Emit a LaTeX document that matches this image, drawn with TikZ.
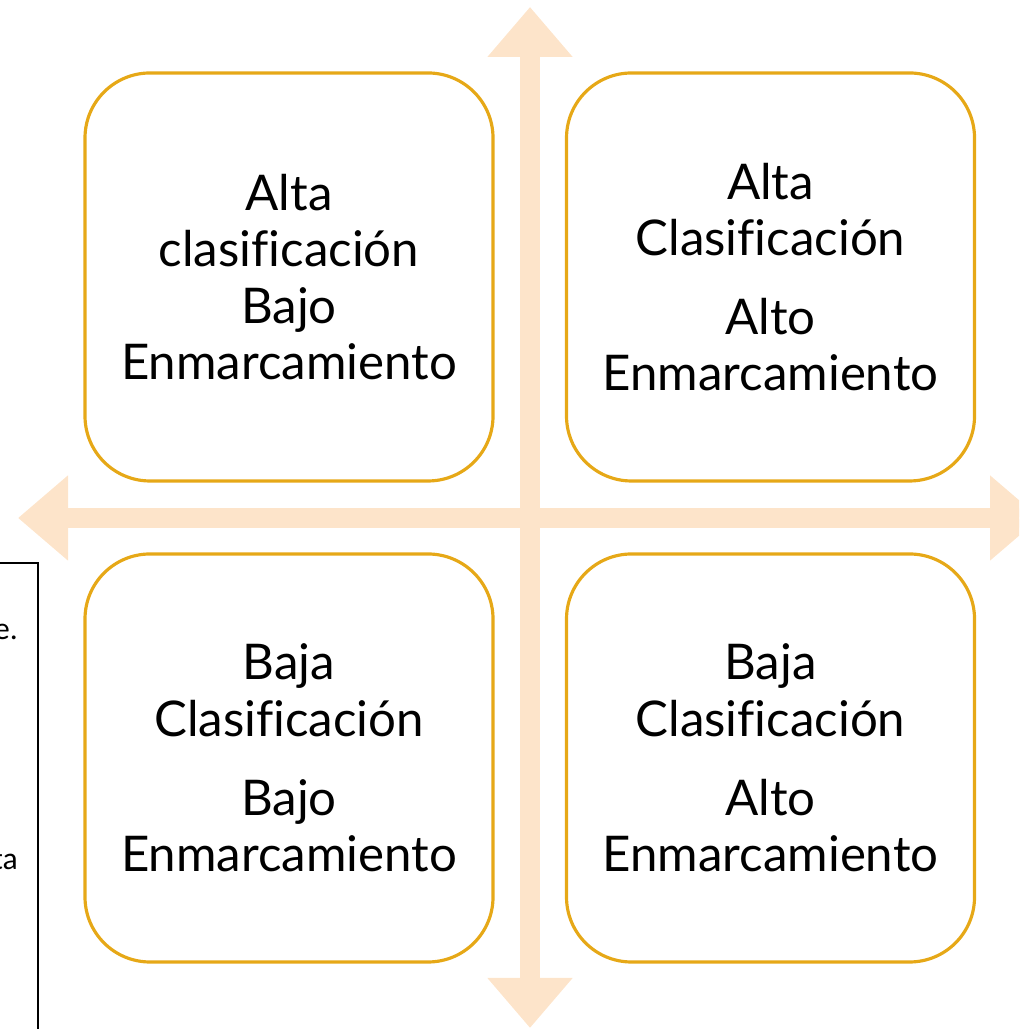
\documentclass[tikz,border=0pt]{standalone}
\usepackage{fontspec}
\setmainfont[Ligatures=NoCommon]{Lato}
\newfontfamily\notefont{Carlito}
\usepackage{tikz}
\usetikzlibrary{arrows.meta}
\definecolor{gold600}{HTML}{E6A817}
\definecolor{peach100}{HTML}{FDE4CA}
\tikzstyle{cuadrante}=[rectangle, rounded corners=6.5mm, draw=gold600, line width=0.9pt, minimum width=4.08cm, minimum height=4.08cm, align=center, font=\fontsize{14}{16}\selectfont]
\tikzstyle{eje}=[draw=peach100, line width=2mm, {Triangle[width=8.2mm,length=5mm]}-{Triangle[width=8.2mm,length=5mm]}]
\tikzstyle{fragmento}=[anchor=east, inner sep=0pt, font=\notefont\fontsize{9}{11}\selectfont]

\begin{document}
\begin{tikzpicture}
	\useasboundingbox (0,0) rectangle (10.19,10.29);
	\clip (0,0) rectangle (10.19,10.29);
	% ejes
	\coordinate (norte) at (5.30,10.22);
	\coordinate (sur) at (5.30,0.01);
	\coordinate (oeste) at (0.18,5.11);
	\coordinate (este) at (10.40,5.11);
	\path[eje] (sur) -- (norte);
	\path[eje] (oeste) -- (este);
	% cuadrantes
	\node[cuadrante] (q2) at (2.89,7.52) {Alta\\clasificación\\Bajo\\Enmarcamiento};
	\node[cuadrante] (q1) at (7.705,7.52) {Alta\\Clasificación\\[2.3mm]Alto\\Enmarcamiento};
	\node[cuadrante] (q3) at (2.89,2.71) {Baja\\Clasificación\\[2.3mm]Bajo\\Enmarcamiento};
	\node[cuadrante] (q4) at (7.705,2.71) {Baja\\Clasificación\\[2.3mm]Alto\\Enmarcamiento};
	% nota recortada
	\node[draw=black, line width=0.6pt, minimum width=1cm, minimum height=5cm, anchor=north east] (nota) at (0.39,4.67) {};
	\node[fragmento] (f1) at (0.185,3.97) {e.};
	\node[fragmento] (f2) at (0.185,1.69) {ta};
\end{tikzpicture}
\end{document}
